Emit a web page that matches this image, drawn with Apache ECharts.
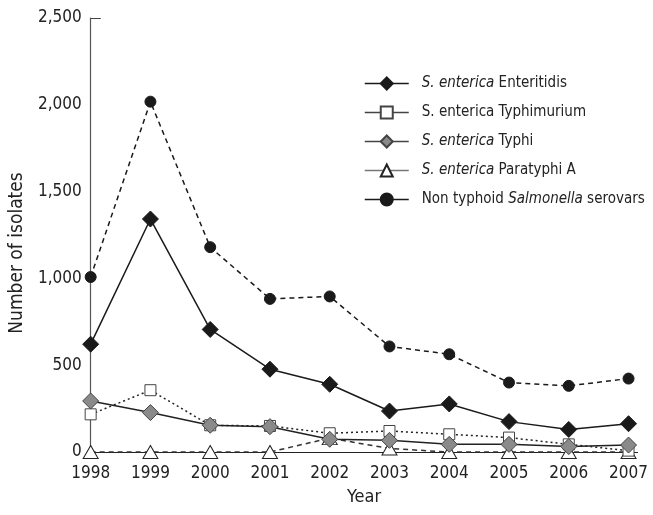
<!DOCTYPE html>
<html>
<head>
<meta charset="utf-8">
<script src="https://cdn.jsdelivr.net/npm/echarts@6/dist/echarts.min.js"></script>
<style>
html,body{margin:0;padding:0;background:#fff;}
#c{width:653px;height:515px;}
</style>
</head>
<body>
<div id="c"></div>
<script>
var years = [1998, 1999, 2000, 2001, 2002, 2003, 2004, 2005, 2006, 2007];
var enteritidis = [621, 1342, 706, 477, 390, 236, 277, 175, 130, 163];
var typhimurium = [217, 356, 154, 150, 108, 121, 102, 83, 44, 8];
var typhi = [294, 227, 154, 146, 73, 67, 44, 44, 31, 40];
var paratyphiA = [0, 0, 0, 0, 80, 20, 0, 0, 0, 0];
var nonTyphoid = [1008, 2018, 1180, 882, 896, 608, 563, 400, 381, 423];
var yTicks = [0, 500, 1000, 1500, 2000, 2500];
var seriesNames = ['S. enterica Enteritidis', 'S. enterica Typhimurium', 'S. enterica Typhi', 'S. enterica Paratyphi A', 'Non typhoid Salmonella serovars'];

var FONT = '"DejaVu Sans Condensed", "Liberation Sans Narrow", "Arial Narrow", sans-serif';

function pairs(arr){ return years.map(function(y,i){ return [y, arr[i]]; }); }

var chart = echarts.init(document.getElementById('c'), null, {renderer:'canvas'});

function mkSeries(name, data, sym, size, fill, border, ltype, lcolor, z){
  return {
    name: name, type: 'line', data: pairs(data), z: z,
    symbol: sym, symbolSize: size, showAllSymbol: true,
    itemStyle: {color: fill, borderColor: border, borderWidth: 1, opacity: 1},
    lineStyle: {type: ltype, color: lcolor, width: 1.5},
    emphasis: {disabled: true},
    animation: false
  };
}

var series = [
  mkSeries(seriesNames[3], paratyphiA, 'triangle', [15, 13], '#fff', '#222', [5, 4], '#333', 2),
  mkSeries(seriesNames[1], typhimurium, 'rect', 11, '#fff', '#444', [2, 3], '#222', 3),
  mkSeries(seriesNames[2], typhi, 'diamond', 16, '#8a8a8a', '#444', 'solid', '#222', 4),
  mkSeries(seriesNames[0], enteritidis, 'diamond', 16, '#1a1a1a', '#1a1a1a', 'solid', '#1a1a1a', 5),
  mkSeries(seriesNames[4], nonTyphoid, 'circle', 11, '#1a1a1a', '#1a1a1a', [5, 4], '#1a1a1a', 6)
];
series[0].markLine = {
  silent: true, symbol: 'none', animation: false,
  label: {show: false},
  lineStyle: {type: 'solid', color: '#444', width: 1},
  data: [[{coord: [years[0], yTicks[yTicks.length-1]]}, {coord: [years[0] + 0.17, yTicks[yTicks.length-1]]}]]
};

var legendFmt = {};
legendFmt[seriesNames[0]] = '{i|S. enterica} {n|Enteritidis}';
legendFmt[seriesNames[1]] = '{n|S. enterica Typhimurium}';
legendFmt[seriesNames[2]] = '{i|S. enterica} {n|Typhi}';
legendFmt[seriesNames[3]] = '{i|S. enterica} {n|Paratyphi A}';
legendFmt[seriesNames[4]] = '{n|Non typhoid }{i|Salmonella}{n| serovars}';

var legendColors = ['#1a1a1a', '#444', '#444', '#777', '#1a1a1a'];

chart.setOption({
  backgroundColor: '#fff',
  animation: false,
  textStyle: {fontFamily: FONT},
  grid: {left: 89.5, right: 15.5, top: 18, bottom: 63, containLabel: false},
  legend: {
    orient: 'vertical', left: 359, top: 71, itemGap: 14,
    itemWidth: 44, itemHeight: 15,
    data: seriesNames.map(function(n, i){
      return {name: n, lineStyle: {type: 'solid', color: legendColors[i], width: 1.5}};
    }),
    formatter: function(n){ return legendFmt[n]; },
    textStyle: {
      fontFamily: FONT, fontSize: 15, color: '#222', padding: [0, 0, 0, 8],
      rich: {
        i: {fontStyle: 'italic', fontFamily: FONT, fontSize: 15, color: '#222'},
        n: {fontFamily: FONT, fontSize: 15, color: '#222'}
      }
    },
    selectedMode: false
  },
  xAxis: {
    type: 'value', min: years[0], max: years[years.length-1] + 0.15, interval: 1,
    name: 'Year', nameLocation: 'middle', nameGap: 36,
    nameTextStyle: {fontFamily: FONT, fontSize: 18, color: '#222'},
    axisLine: {show: true, onZero: false, lineStyle: {color: '#222', width: 1.2}},
    axisTick: {show: false},
    splitLine: {show: false},
    axisLabel: {
      fontFamily: FONT, fontSize: 17, color: '#222', margin: 13,
      showMaxLabel: false,
      formatter: function(v){ return (Math.abs(v - Math.round(v)) < 1e-6) ? String(Math.round(v)) : ''; }
    }
  },
  yAxis: {
    type: 'value', min: yTicks[0], max: yTicks[yTicks.length-1], interval: 500,
    name: 'Number of isolates', nameLocation: 'middle', nameGap: 62,
    nameTextStyle: {fontFamily: FONT, fontSize: 19, color: '#222', padding: [0, 36, 0, 0]},
    axisLine: {show: true, lineStyle: {color: '#555', width: 1.2}},
    axisTick: {show: false},
    splitLine: {show: false},
    axisLabel: {fontFamily: FONT, fontSize: 17, color: '#222', margin: 9}
  },
  series: series
});
</script>
</body>
</html>
